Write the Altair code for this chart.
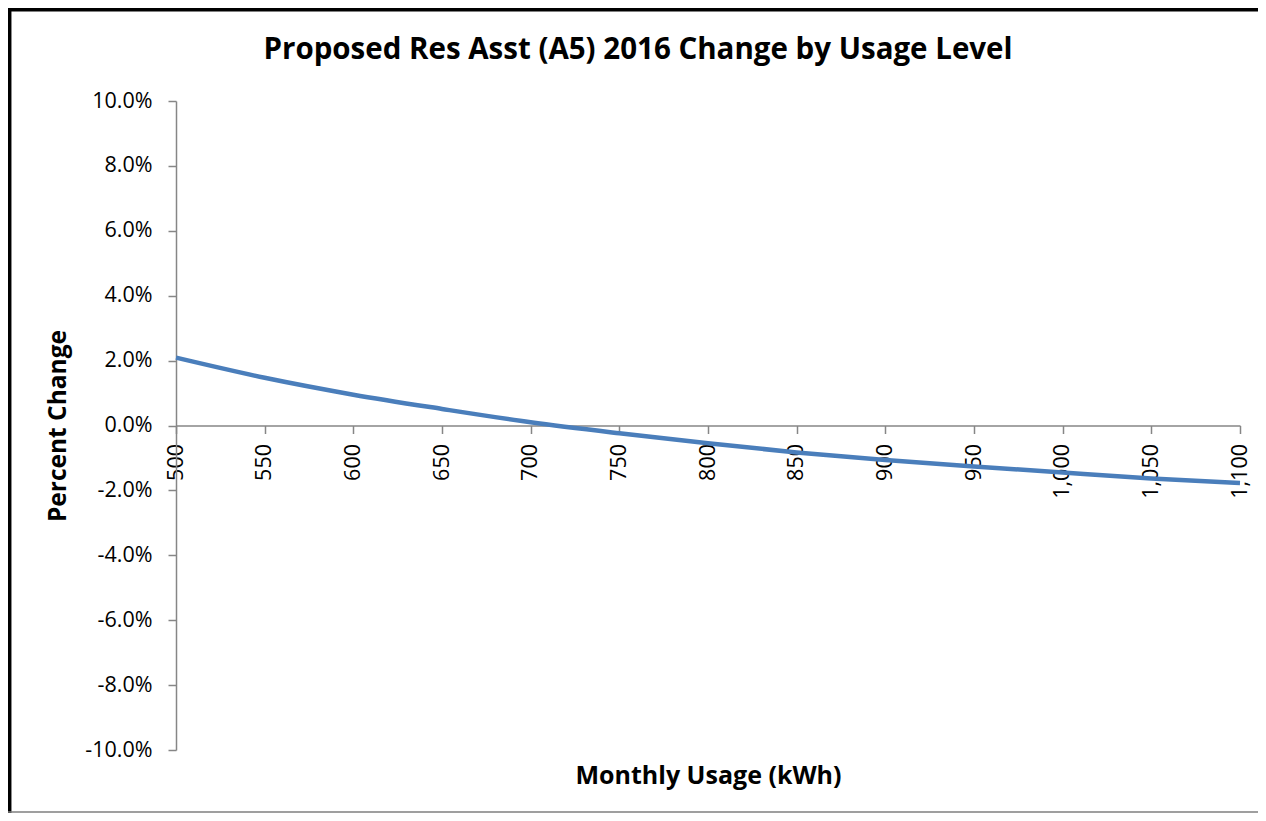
import altair as alt
import pandas as pd

usage = [500, 550, 600, 650, 700, 750, 800, 850, 900, 950, 1000, 1050, 1100]
pct_change = [0.0209, 0.0147, 0.0095, 0.0051, 0.0010, -0.0024, -0.0055,
              -0.0083, -0.0106, -0.0126, -0.0145, -0.0163, -0.0177]
y_ticks = [-0.10, -0.08, -0.06, -0.04, -0.02, 0.0, 0.02, 0.04, 0.06, 0.08, 0.10]
chart_title = "Proposed Res Asst (A5) 2016 Change by Usage Level"

df = pd.DataFrame({"usage": usage, "pct": pct_change})
title_df = pd.DataFrame({"t": [chart_title]})

FONT = "Open Sans"
AXIS_COLOR = "#868686"

W, H = 1064, 649

line = alt.Chart(df).mark_line(
    color="#4A7EBB", strokeWidth=4.5, interpolate="monotone"
).encode(
    x=alt.X("usage:Q",
            scale=alt.Scale(domain=[500, 1100], nice=False, zero=False),
            axis=alt.Axis(
                values=usage, format=",d", labelAngle=-90,
                labelFont=FONT, labelFontSize=21.5, labelColor="black",
                labelPadding=10, tickSize=8, tickColor=AXIS_COLOR,
                domainColor=AXIS_COLOR, domainWidth=1.5, tickWidth=1.5,
                grid=False, offset=-324.5, labelFlush=False, labelOverlap=False,
                title="Monthly Usage (kWh)", titleFont=FONT, titleFontSize=25,
                titleFontWeight="bold", titleColor="black",
                titleY=350, titleBaseline="middle", titleX=W / 2,
            )),
    y=alt.Y("pct:Q",
            scale=alt.Scale(domain=[-0.1, 0.1], nice=False),
            axis=alt.Axis(
                values=y_ticks, format=".1%",
                labelExpr="replace(format(datum.value, '.1%'), '\u2212', '-')",
                labelFont=FONT, labelFontSize=21.5, labelColor="black",
                labelPadding=16, tickSize=8, tickColor=AXIS_COLOR,
                domainColor=AXIS_COLOR, domainWidth=1.5, tickWidth=1.5,
                grid=False, labelOverlap=False,
                title="Percent Change", titleFont=FONT, titleFontSize=24.5,
                titleFontWeight="bold", titleColor="black",
                titleX=-118, titleY=H / 2, titleBaseline="middle",
            )),
)

title_mark = alt.Chart(title_df).mark_text(
    font=FONT, fontSize=29.5, fontWeight="bold", color="black",
    align="center", baseline="middle"
).encode(
    text="t:N", x=alt.value(W / 2 - 70), y=alt.value(-51)
)

left_border = alt.Chart(title_df).mark_rule(color="black", strokeWidth=3.5).encode(
    x=alt.value(-166.3), y=alt.value(-93), y2=alt.value(H + 63)
)
top_border = alt.Chart(title_df).mark_rule(color="black", strokeWidth=3.5).encode(
    x=alt.value(-168), x2=alt.value(W + 40), y=alt.value(-91.3)
)
bottom_border = alt.Chart(title_df).mark_rule(color="#7f7f7f", strokeWidth=1.5).encode(
    x=alt.value(-168), x2=alt.value(W + 40), y=alt.value(H + 62)
)

chart = alt.layer(left_border, top_border, bottom_border, title_mark, line).properties(
    width=W, height=H,
    padding={"left": 168, "top": 93, "right": 18, "bottom": 63},
    autosize=alt.AutoSizeParams(type="none"),
    background="white",
).configure_view(strokeWidth=0, stroke=None)

chart.save("out.html", embed_options={"renderer": "svg", "actions": False})
